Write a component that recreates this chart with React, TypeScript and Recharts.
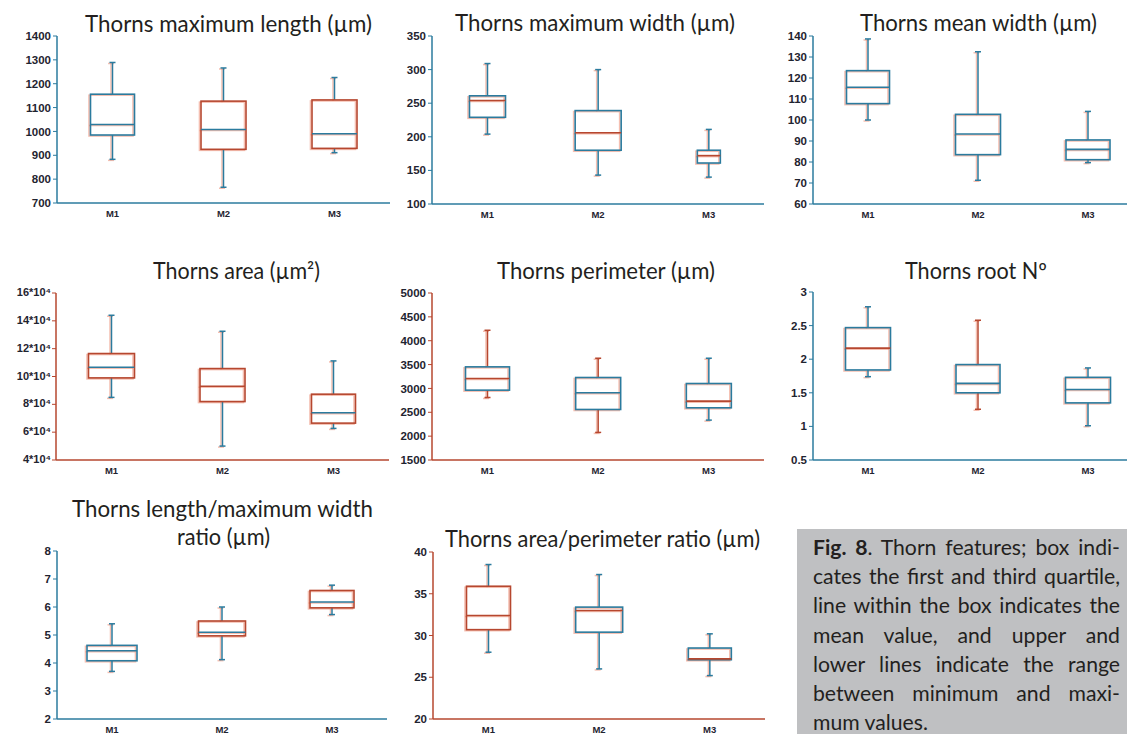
import React from 'react';
import { ComposedChart, Bar, XAxis, YAxis } from 'recharts';

const categories = ['M1', 'M2', 'M3'];

// Thorns maximum length (µm)
const lengthMin = [883, 766, 911];
const lengthQ1 = [985, 925, 929];
const lengthMedian = [1029, 1008, 990];
const lengthQ3 = [1156, 1127, 1132];
const lengthMax = [1289, 1266, 1226];
const lengthTicks = [700, 800, 900, 1000, 1100, 1200, 1300, 1400];

// Thorns maximum width (µm)
const maxWidthMin = [204, 143, 140];
const maxWidthQ1 = [229, 180, 161];
const maxWidthMedian = [254, 206, 172];
const maxWidthQ3 = [261, 239, 180];
const maxWidthMax = [309, 300, 211];
const maxWidthTicks = [100, 150, 200, 250, 300, 350];

// Thorns mean width (µm)
const meanWidthMin = [100, 71.3, 79.7];
const meanWidthQ1 = [107.8, 83.5, 81.1];
const meanWidthMedian = [115.6, 93.3, 86];
const meanWidthQ3 = [123.5, 102.7, 90.5];
const meanWidthMax = [138.6, 132.5, 104.1];
const meanWidthTicks = [60, 70, 80, 90, 100, 110, 120, 130, 140];

// Thorns area (µm²)
const areaMin = [85000, 50000, 62700];
const areaQ1 = [99000, 82000, 66500];
const areaMedian = [106700, 93000, 74000];
const areaQ3 = [116500, 105700, 87300];
const areaMax = [144000, 132500, 111200];
const areaTicks = [40000, 60000, 80000, 100000, 120000, 140000, 160000];

// Thorns perimeter (µm)
const perimeterMin = [2810, 2078, 2336];
const perimeterQ1 = [2964, 2559, 2594];
const perimeterMedian = [3208, 2908, 2734];
const perimeterQ3 = [3452, 3229, 3103];
const perimeterMax = [4219, 3633, 3633];
const perimeterTicks = [1500, 2000, 2500, 3000, 3500, 4000, 4500, 5000];

// Thorns root Nº
const rootMin = [1.74, 1.255, 1.01];
const rootQ1 = [1.84, 1.5, 1.35];
const rootMedian = [2.165, 1.64, 1.55];
const rootQ3 = [2.47, 1.92, 1.73];
const rootMax = [2.78, 2.58, 1.87];
const rootTicks = [0.5, 1, 1.5, 2, 2.5, 3];

// Thorns length/maximum width ratio (µm)
const lwRatioMin = [3.7, 4.12, 5.73];
const lwRatioQ1 = [4.08, 4.97, 5.97];
const lwRatioMedian = [4.44, 5.1, 6.18];
const lwRatioQ3 = [4.63, 5.5, 6.59];
const lwRatioMax = [5.4, 6.0, 6.78];
const lwRatioTicks = [2, 3, 4, 5, 6, 7, 8];

// Thorns area/perimeter ratio (µm)
const apRatioMin = [28, 26, 25.2];
const apRatioQ1 = [30.7, 30.4, 27.1];
const apRatioMedian = [32.4, 33.0, 27.2];
const apRatioQ3 = [35.9, 33.4, 28.5];
const apRatioMax = [38.5, 37.3, 30.2];
const apRatioTicks = [20, 25, 30, 35, 40];

const B = '#2b7b9e';
const R = '#b6472f';
const FRINGE = 'rgba(236,128,100,0.5)';
const TEXT = '#1f2430';
const TICK_FONT = 'Liberation Sans, Arial, sans-serif';

type Panel = {
  min: number[]; q1: number[]; med: number[]; q3: number[]; max: number[];
  ticks: number[];
  plot: { x0: number; x1: number; y0: number; y1: number };
  axis: string;
  box: string[]; medC: string[]; whisk: string[];
  bw: number[];
  area?: boolean;
};

const panels: Panel[] = [
  { min: lengthMin, q1: lengthQ1, med: lengthMedian, q3: lengthQ3, max: lengthMax, ticks: lengthTicks,
    plot: { x0: 57, x1: 390, y0: 36, y1: 203 }, axis: B,
    box: [B, R, R], medC: [B, B, B], whisk: [B, B, B], bw: [44, 45, 45] },
  { min: maxWidthMin, q1: maxWidthQ1, med: maxWidthMedian, q3: maxWidthQ3, max: maxWidthMax, ticks: maxWidthTicks,
    plot: { x0: 432, x1: 764, y0: 36, y1: 204 }, axis: B,
    box: [B, B, B], medC: [R, R, R], whisk: [B, B, B], bw: [36, 46, 23] },
  { min: meanWidthMin, q1: meanWidthQ1, med: meanWidthMedian, q3: meanWidthQ3, max: meanWidthMax, ticks: meanWidthTicks,
    plot: { x0: 813, x1: 1143, y0: 36, y1: 204 }, axis: B,
    box: [B, B, B], medC: [B, B, B], whisk: [B, B, B], bw: [43, 45, 44] },
  { min: areaMin, q1: areaQ1, med: areaMedian, q3: areaQ3, max: areaMax, ticks: areaTicks,
    plot: { x0: 56, x1: 389, y0: 293, y1: 460 }, axis: R,
    box: [R, R, R], medC: [B, R, B], whisk: [B, B, B], bw: [46, 45, 44], area: true },
  { min: perimeterMin, q1: perimeterQ1, med: perimeterMedian, q3: perimeterQ3, max: perimeterMax, ticks: perimeterTicks,
    plot: { x0: 432, x1: 764, y0: 293, y1: 460 }, axis: R,
    box: [B, B, B], medC: [R, B, R], whisk: [R, R, B], bw: [44, 45, 45] },
  { min: rootMin, q1: rootQ1, med: rootMedian, q3: rootQ3, max: rootMax, ticks: rootTicks,
    plot: { x0: 813, x1: 1143, y0: 292, y1: 460 }, axis: B,
    box: [B, B, B], medC: [R, B, B], whisk: [B, R, B], bw: [45, 44, 45] },
  { min: lwRatioMin, q1: lwRatioQ1, med: lwRatioMedian, q3: lwRatioQ3, max: lwRatioMax, ticks: lwRatioTicks,
    plot: { x0: 57, x1: 387, y0: 551, y1: 719 }, axis: B,
    box: [B, R, R], medC: [B, B, B], whisk: [B, B, B], bw: [50, 47, 44] },
  { min: apRatioMin, q1: apRatioQ1, med: apRatioMedian, q3: apRatioQ3, max: apRatioMax, ticks: apRatioTicks,
    plot: { x0: 433, x1: 765, y0: 552, y1: 719 }, axis: R,
    box: [R, B, B], medC: [R, R, R], whisk: [B, B, B], bw: [44, 47, 43] },
];

type TitleLine = { text: string; cx: number; y: number; len: number };
const titles: TitleLine[] = [
  { text: 'Thorns maximum length (µm)', cx: 228.5, y: 32, len: 287 },
  { text: 'Thorns maximum width (µm)', cx: 595, y: 31, len: 280 },
  { text: 'Thorns mean width (µm)', cx: 978.5, y: 31, len: 237 },
  { text: 'Thorns area (µm²)', cx: 236.5, y: 279, len: 167 },
  { text: 'Thorns perimeter (µm)', cx: 606, y: 279, len: 218 },
  { text: 'Thorns root Nº', cx: 976, y: 279, len: 142 },
  { text: 'Thorns length/maximum width', cx: 222.5, y: 517, len: 301 },
  { text: 'ratio (µm)', cx: 223.5, y: 545, len: 93 },
  { text: 'Thorns area/perimeter ratio (µm)', cx: 602.5, y: 547, len: 315 },
];

const captionLines = [
  ['Fig. 8', '. Thorn features; box indi-'],
  ['', 'cates the first and third quartile,'],
  ['', 'line within the box indicates the'],
  ['', 'mean value, and upper and'],
  ['', 'lower lines indicate the range'],
  ['', 'between minimum and maxi-'],
  ['', 'mum values.'],
];

function makeShape(p: Panel) {
  return (props: any) => {
    const { x, y, width, height, index } = props;
    if (x == null || y == null) return null;
    const top = Math.min(y, y + height);
    const bot = Math.max(y, y + height);
    const lo = p.min[index];
    const hi = p.max[index];
    const py = (v: number) => top + ((bot - top) * (hi - v)) / (hi - lo);
    const cx = x + width / 2;
    const hw = p.bw[index] / 2;
    const yMax = py(hi), yQ3 = py(p.q3[index]), yMed = py(p.med[index]), yQ1 = py(p.q1[index]), yMin = py(lo);
    const draw = (wc: string, bc: string, mc: string, dx: number, dy: number) => (
      <g transform={`translate(${dx},${dy})`}>
        <line x1={cx} x2={cx} y1={yMax} y2={yQ3} stroke={wc} strokeWidth={1.5} />
        <line x1={cx} x2={cx} y1={yQ1} y2={yMin} stroke={wc} strokeWidth={1.5} />
        <line x1={cx - 3} x2={cx + 3} y1={yMax} y2={yMax} stroke={wc} strokeWidth={1.5} />
        <line x1={cx - 3} x2={cx + 3} y1={yMin} y2={yMin} stroke={wc} strokeWidth={1.5} />
        <rect x={cx - hw} y={yQ3} width={2 * hw} height={Math.max(0.5, yQ1 - yQ3)} fill="none" stroke={bc} strokeWidth={1.6} />
        <line x1={cx - hw} x2={cx + hw} y1={yMed} y2={yMed} stroke={mc} strokeWidth={1.6} />
      </g>
    );
    return (
      <g>
        {draw(FRINGE, FRINGE, FRINGE, -1.5, 1)}
        {draw(p.whisk[index], p.box[index], p.medC[index], 0, 0)}
      </g>
    );
  };
}

const AreaTick = (props: any) => {
  const { x, y, payload } = props;
  const n = payload.value / 10000;
  return (
    <text x={x + 1} y={y + 3} textAnchor="end" fill={TEXT} fontSize={11} fontWeight={700} fontFamily={TICK_FONT}>
      {`${n}*10⁴`}
    </text>
  );
};

const YW = 60;
const TOP = 10;
const XH = 24;

function BoxPanel({ p }: { p: Panel }) {
  const rows = categories.map((c, i) => ({ cat: c, range: [p.min[i], p.max[i]] }));
  const plotW = p.plot.x1 - p.plot.x0;
  const plotH = p.plot.y1 - p.plot.y0;
  const tickStyle = { fill: TEXT, fontSize: 11.5, fontWeight: 700, fontFamily: TICK_FONT };
  return (
    <div style={{ position: 'absolute', left: p.plot.x0 - YW, top: p.plot.y0 - TOP }}>
      <ComposedChart
        width={YW + plotW}
        height={TOP + plotH + XH}
        data={rows}
        margin={{ top: TOP, right: 0, bottom: 0, left: 0 }}
        barCategoryGap={0}
      >
        <XAxis
          dataKey="cat"
          height={XH}
          tickLine={false}
          tickSize={4}
          tickMargin={3}
          axisLine={{ stroke: p.axis, strokeWidth: 1.5 }}
          tick={{ fill: TEXT, fontSize: 9.5, fontWeight: 700, fontFamily: TICK_FONT }}
        />
        <YAxis
          type="number"
          width={YW}
          domain={[p.ticks[0], p.ticks[p.ticks.length - 1]]}
          ticks={p.ticks}
          interval={0}
          allowDataOverflow
          tickSize={4}
          tickMargin={2}
          axisLine={{ stroke: p.axis, strokeWidth: 1.5 }}
          tickLine={{ stroke: p.axis }}
          tick={p.area ? <AreaTick /> : tickStyle}
        />
        <Bar dataKey="range" isAnimationActive={false} shape={makeShape(p)} />
      </ComposedChart>
    </div>
  );
}

export default function App() {
  return (
    <div
      style={{
        position: 'absolute', left: 0, top: 0, width: 1127, height: 734,
        background: '#ffffff', overflow: 'hidden',
      }}
    >
      {panels.map((p, i) => (
        <BoxPanel key={i} p={p} />
      ))}
      <svg width={1127} height={734} style={{ position: 'absolute', left: 0, top: 0, pointerEvents: 'none' }}>
        {titles.map((l, i) => (
          <text
            key={i}
            x={l.cx - l.len / 2}
            y={l.y}
            textLength={l.len}
            lengthAdjust="spacingAndGlyphs"
            fontFamily="Lato, sans-serif"
            fontSize={22.5}
            fill="#231f20"
          >
            {l.text}
          </text>
        ))}
      </svg>
      <div
        style={{
          position: 'absolute', left: 797, top: 529, width: 330, height: 205,
          background: '#bfc0c2', boxSizing: 'border-box', padding: '4px 7px 0 16px',
          fontFamily: 'Lato, sans-serif', fontSize: 21.2, lineHeight: '29.2px', color: '#231f20',
        }}
      >
        {captionLines.map((l, i) => (
          <div
            key={i}
            style={{
              whiteSpace: 'nowrap',
              textAlign: i === captionLines.length - 1 ? 'left' : 'justify',
              textAlignLast: i === captionLines.length - 1 ? 'left' : 'justify',
            }}
          >
            {l[0] ? <b>{l[0]}</b> : null}
            {l[1]}
          </div>
        ))}
      </div>
    </div>
  );
}
